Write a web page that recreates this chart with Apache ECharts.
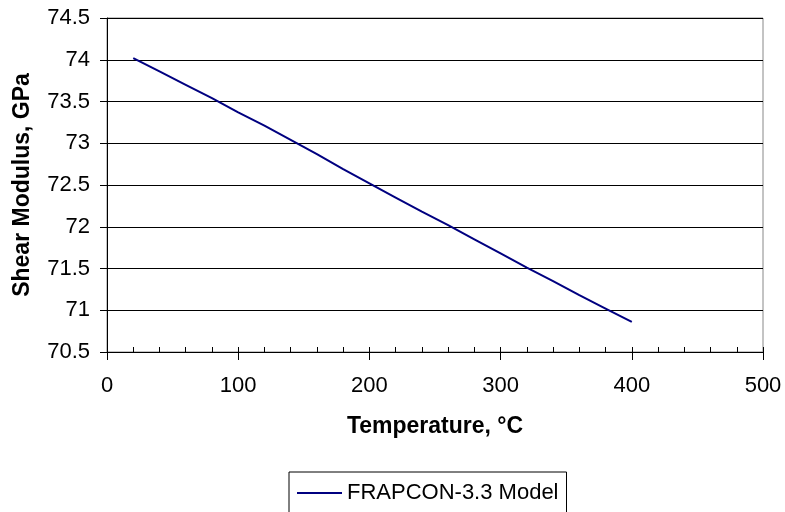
<!DOCTYPE html>
<html><head><meta charset="utf-8">
<script src="https://cdn.jsdelivr.net/npm/echarts@6/dist/echarts.min.js"></script>
<style>html,body{margin:0;padding:0;background:#fff}#c{width:785px;height:512px}</style>
</head><body><div id="c"></div>
<script>
const temperatures = [20,40,60,80,100,120,140,160,180,200,220,240,260,280,300,320,340,360,380,400];
const shearModulus = [74.02,73.86,73.70,73.54,73.37,73.21,73.04,72.87,72.69,72.52,72.35,72.18,72.02,71.85,71.68,71.51,71.35,71.18,71.02,70.86];
const seriesName = 'FRAPCON-3.3 Model';
const xTitle = 'Temperature, °C';
const yTitle = 'Shear Modulus, GPa';

const font = 'Arial, "Liberation Sans", sans-serif';
const chart = echarts.init(document.getElementById('c'));
chart.setOption({
  animation: false,
  backgroundColor: '#fff',
  grid: {left: 107, right: 22, top: 18, bottom: 160, show: true, borderColor: '#888', borderWidth: 1},
  xAxis: [{
    type: 'value', min: 0, max: 500, interval: 100,
    name: xTitle, nameLocation: 'middle', nameGap: 63,
    nameTextStyle: {fontFamily: font, fontSize: 23, fontWeight: 'bold', color: '#000'},
    axisLine: {lineStyle: {color: '#000', width: 1}},
    axisTick: {show: true, inside: false, length: 8, lineStyle: {color: '#000'}},
    axisLabel: {fontFamily: font, fontSize: 22, color: '#000', margin: 23},
    splitLine: {show: false}
  }, {
    type: 'value', min: 0, max: 500, interval: 100, position: 'bottom',
    axisLine: {show: false},
    axisTick: {show: true, inside: true, length: 5, lineStyle: {color: '#000'}},
    minorTick: {show: true, splitNumber: 5, length: 5, lineStyle: {color: '#000'}},
    axisLabel: {show: false},
    splitLine: {show: false}
  }],
  yAxis: {
    type: 'value', min: 70.5, max: 74.5, interval: 0.5,
    name: yTitle, nameLocation: 'middle', nameGap: 73, nameRotate: 90,
    nameTextStyle: {fontFamily: font, fontSize: 23, fontWeight: 'bold', color: '#000'},
    axisLine: {show: true, lineStyle: {color: '#000', width: 1}},
    axisTick: {show: true, inside: false, length: 7, lineStyle: {color: '#000'}},
    axisLabel: {fontFamily: font, fontSize: 22, color: '#000', margin: 17},
    splitLine: {show: true, lineStyle: {color: '#000', width: 1}}
  },
  legend: {
    data: [{name: seriesName, icon: 'rect'}], left: 289, top: 472,
    itemWidth: 45, itemHeight: 2, itemGap: 6,
    itemStyle: {color: '#000080'},
    borderColor: '#000', borderWidth: 1,
    padding: [10, 8, 20, 8],
    textStyle: {fontFamily: font, fontSize: 22, color: '#000'}
  },
  series: [{
    name: seriesName, type: 'line', xAxisIndex: 0,
    data: temperatures.map((t, i) => [t, shearModulus[i]]),
    showSymbol: false, symbol: 'none',
    lineStyle: {color: '#000080', width: 2},
    itemStyle: {color: '#000080'}
  }]
});
</script></body></html>
